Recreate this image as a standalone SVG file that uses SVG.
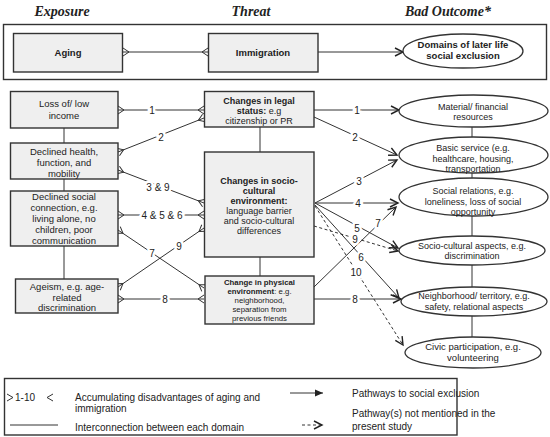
<svg xmlns="http://www.w3.org/2000/svg" width="550" height="437" viewBox="0 0 550 437">
<style>
.hdr{font-family:"Liberation Serif",serif;font-weight:bold;font-style:italic;font-size:14px;fill:#222;text-anchor:middle}
.box{fill:#efefef;stroke:#333;stroke-width:1.4}
.ell{fill:#fff;stroke:#333;stroke-width:1.3}
.frame{fill:none;stroke:#333;stroke-width:1.4}
.t{font-family:"Liberation Sans",Arial,sans-serif;font-size:9.5px;fill:#222;text-anchor:middle}
.e{font-size:9px}
.b{font-weight:bold}
.s{font-size:7.8px}
.lg{font-family:"Liberation Sans",Arial,sans-serif;font-size:10px;fill:#222}
.num{font-family:"Liberation Sans",Arial,sans-serif;font-size:10px;fill:#222;text-anchor:middle;stroke:#fff;stroke-width:5;paint-order:stroke;dominant-baseline:central}
.ln{stroke:#333;stroke-width:1;fill:none}
.cf{marker-start:url(#crow);marker-end:url(#crow)}
.ar{marker-end:url(#arr)}
.da{stroke-dasharray:3,2.5;marker-end:url(#arr)}
</style>
<defs>
<marker id="crow" markerUnits="userSpaceOnUse" viewBox="-8 -6 10 12" refX="0" refY="0" markerWidth="10" markerHeight="12" orient="auto-start-reverse">
<path d="M0,-4 L-6,0 L0,4" fill="none" stroke="#333" stroke-width="1"/>
</marker>
<marker id="arr" markerUnits="userSpaceOnUse" viewBox="-10 -6 12 12" refX="0" refY="0" markerWidth="12" markerHeight="12" orient="auto">
<path d="M-8,-4 L0,0 L-8,4" fill="none" stroke="#222" stroke-width="1.4"/>
</marker>
<marker id="arrf" markerUnits="userSpaceOnUse" viewBox="-10 -6 12 12" refX="0" refY="0" markerWidth="12" markerHeight="12" orient="auto">
<path d="M-8,-3.5 L0,0 L-8,3.5 Z" fill="#222"/>
</marker>
</defs>

<g id="headers">
<text class="hdr" x="62" y="16">Exposure</text>
<text class="hdr" x="251" y="16">Threat</text>
<text class="hdr" x="448" y="16">Bad Outcome*</text>
</g>

<g id="top-frame"><rect class="frame" x="3.5" y="24.5" width="543" height="55"/></g>

<g id="connectors">
<line class="ln cf" x1="123" y1="52" x2="208" y2="52"/>
<line class="ln ar" x1="318" y1="52" x2="403" y2="52"/>
<line class="ln" x1="64" y1="128" x2="64" y2="143"/>
<line class="ln" x1="64" y1="179" x2="64" y2="191"/>
<line class="ln" x1="64" y1="246" x2="64" y2="279"/>
<line class="ln" x1="260" y1="127" x2="260" y2="152"/>
<line class="ln" x1="260" y1="257" x2="260" y2="276"/>
<line class="ln" x1="472" y1="127" x2="472" y2="137"/>
<line class="ln" x1="472" y1="173" x2="472" y2="178"/>
<line class="ln" x1="472" y1="216" x2="472" y2="236"/>
<line class="ln" x1="472" y1="265" x2="472" y2="287"/>
<line class="ln" x1="472" y1="316" x2="472" y2="337"/>
<line class="ln cf" x1="118" y1="110" x2="204" y2="110"/>
<line class="ln cf" x1="118" y1="152" x2="204" y2="118"/>
<line class="ln cf" x1="118" y1="170" x2="204" y2="203"/>
<line class="ln cf" x1="118" y1="215" x2="204" y2="215"/>
<line class="ln cf" x1="118" y1="230" x2="204" y2="288"/>
<line class="ln cf" x1="118" y1="287" x2="204" y2="228"/>
<line class="ln cf" x1="118" y1="299" x2="204" y2="299"/>
<line class="ln ar" x1="314" y1="110" x2="399" y2="110"/>
<line class="ln ar" x1="314" y1="117" x2="397" y2="155"/>
<line class="ln ar" x1="315" y1="203" x2="397" y2="160"/>
<line class="ln ar" x1="315" y1="203" x2="398" y2="203"/>
<line class="ln ar" x1="315" y1="203" x2="398" y2="248"/>
<line class="ln ar" x1="315" y1="205" x2="399" y2="298"/>
<line class="ln da" x1="314" y1="226" x2="398" y2="251"/>
<line class="ln da" x1="315" y1="206" x2="403" y2="345"/>
<line class="ln ar" x1="314" y1="287" x2="396" y2="207"/>
<line class="ln ar" x1="314" y1="299" x2="401" y2="299"/>
<text class="num" x="152" y="110">1</text>
<text class="num" x="161" y="137">2</text>
<text class="num" x="158" y="187">3 &amp; 9</text>
<text class="num" x="162" y="215">4 &amp; 5 &amp; 6</text>
<text class="num" x="152" y="253">7</text>
<text class="num" x="179" y="246">9</text>
<text class="num" x="165" y="299">8</text>
<text class="num" x="357" y="110">1</text>
<text class="num" x="355" y="137">2</text>
<text class="num" x="359" y="181">3</text>
<text class="num" x="358" y="203">4</text>
<text class="num" x="357" y="228">5</text>
<text class="num" x="355" y="239">9</text>
<text class="num" x="361" y="257">6</text>
<text class="num" x="356" y="272">10</text>
<text class="num" x="378" y="223">7</text>
<text class="num" x="355" y="299">8</text>
</g>

<g id="aging"><rect class="box" x="13.5" y="33.5" width="109" height="38.5"/><text class="t b" x="68" y="56" font-size="10">Aging</text></g>
<g id="immigration"><rect class="box" x="208.5" y="33.5" width="109.5" height="38.5"/><text class="t b" x="263" y="56" font-size="10">Immigration</text></g>
<g id="domains"><ellipse class="ell" cx="463" cy="51" rx="60" ry="17"/><text class="t b" x="463" y="48">Domains of later life</text><text class="t b" x="463" y="59">social exclusion</text></g>

<g id="loss-income"><rect class="box" x="10.5" y="91.5" width="107.5" height="36.5"/><text class="t" x="64" y="107">Loss of/ low</text><text class="t" x="64" y="119">income</text></g>
<g id="declined-health"><rect class="box" x="10.5" y="143" width="107.5" height="36"/><text class="t" x="64" y="155">Declined health,</text><text class="t" x="64" y="166">function, and</text><text class="t" x="64" y="177">mobility</text></g>
<g id="declined-social"><rect class="box" x="10.5" y="191" width="107.5" height="55"/><text class="t" x="64" y="200">Declined social</text><text class="t" x="64" y="211">connection, e.g.</text><text class="t" x="64" y="222">living alone, no</text><text class="t" x="64" y="233">children, poor</text><text class="t" x="64" y="244">communication</text></g>
<g id="ageism"><rect class="box" x="15.5" y="279" width="102.5" height="34"/><text class="t" x="67" y="290">Ageism, e.g. age-</text><text class="t" x="67" y="300.5">related</text><text class="t" x="67" y="311">discrimination</text></g>

<g id="legal-status"><rect class="box" x="204.5" y="91.5" width="109.5" height="35.5"/><text class="t b e" x="259" y="104">Changes in legal</text><text class="t e" x="259" y="114"><tspan class="b">status:</tspan> e.g</text><text class="t e" x="259" y="124">citizenship or PR</text></g>
<g id="socio-cultural-env"><rect class="box" x="204.5" y="152" width="109.5" height="105"/><text class="t b e" x="259" y="184">Changes in socio-</text><text class="t b e" x="259" y="194">cultural</text><text class="t b e" x="259" y="204">environment:</text><text class="t e" x="259" y="214">language barrier</text><text class="t e" x="259" y="224">and socio-cultural</text><text class="t e" x="259" y="234">differences</text></g>
<g id="physical-env"><rect class="box" x="205" y="276" width="109" height="48"/><text class="t s b" x="259.5" y="284.5">Change in physical</text><text class="t s" x="259.5" y="293.5"><tspan class="b">environment</tspan>: e.g.</text><text class="t s" x="259.5" y="302.5">neighborhood,</text><text class="t s" x="259.5" y="311.5">separation from</text><text class="t s" x="259.5" y="320.5">previous friends</text></g>

<g id="material"><ellipse class="ell" cx="473.5" cy="111" rx="74.5" ry="16"/><text class="t e" x="473" y="109.5">Material/ financial</text><text class="t e" x="473" y="120">resources</text></g>
<g id="basic-service"><ellipse class="ell" cx="473.5" cy="155" rx="74.5" ry="18"/><text class="t e" x="473" y="151">Basic service (e.g.</text><text class="t e" x="473" y="161.5">healthcare, housing,</text><text class="t e" x="473" y="172">transportation</text></g>
<g id="social-relations"><ellipse class="ell" cx="473.5" cy="197" rx="74.5" ry="19"/><text class="t e" x="473" y="194">Social relations, e.g.</text><text class="t e" x="473" y="204.5">loneliness, loss of social</text><text class="t e" x="473" y="215">opportunity</text></g>
<g id="socio-cultural-aspects"><ellipse class="ell" cx="472" cy="250.5" rx="73" ry="14.5"/><text class="t e" x="472" y="248.5">Socio-cultural aspects, e.g.</text><text class="t e" x="472" y="259">discrimination</text></g>
<g id="neighborhood"><ellipse class="ell" cx="474" cy="301.5" rx="73" ry="14.5"/><text class="t e" x="474" y="299">Neighborhood/ territory, e.g.</text><text class="t e" x="474" y="309.5">safety, relational aspects</text></g>
<g id="civic"><ellipse class="ell" cx="473" cy="352.5" rx="68" ry="15.5"/><text class="t" x="473" y="349.5">Civic participation, e.g.</text><text class="t" x="473" y="360.5">volunteering</text></g>

<g id="legend">
<rect class="frame" x="4.5" y="378.5" width="452.5" height="56.5" stroke="#777"/>
<path d="M7,394 L13,397.5 L7,401" class="ln"/>
<text class="lg" x="15" y="401">1-10</text>
<path d="M53,394 L47,397.5 L53,401" class="ln"/>
<text class="lg" x="75" y="401">Accumulating disadvantages of aging and</text>
<text class="lg" x="75" y="412">immigration</text>
<line class="ln" x1="10" y1="425" x2="58" y2="425"/>
<text class="lg" x="75" y="430.5">Interconnection between each domain</text>
<line class="ln" x1="290" y1="393" x2="323" y2="393" marker-end="url(#arrf)"/>
<text class="lg" x="352" y="396.5">Pathways to social exclusion</text>
<line class="ln" x1="302" y1="425" x2="322" y2="425" stroke-dasharray="3,2.5" marker-end="url(#arr)"/>
<text class="lg" x="352" y="417">Pathway(s) not mentioned in the</text>
<text class="lg" x="352" y="429.5">present study</text>
</g>
</svg>
